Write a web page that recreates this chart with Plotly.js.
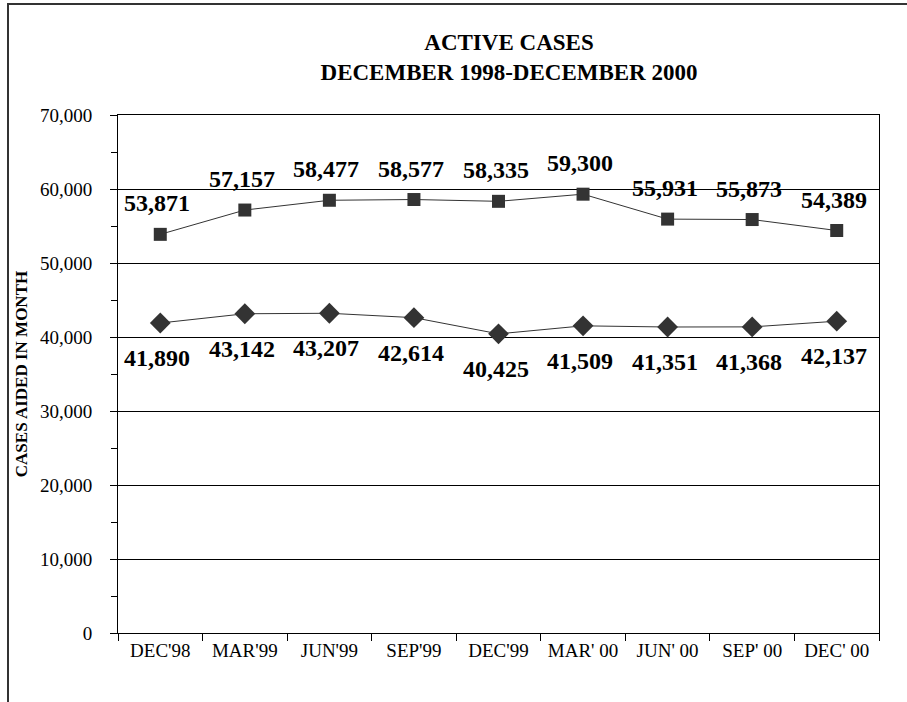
<!DOCTYPE html>
<html>
<head>
<meta charset="utf-8">
<script src="https://cdn.plot.ly/plotly-3.0.1.min.js"></script>
<style>
  html, body { margin: 0; padding: 0; background: #fff; }
  #wrap { position: relative; width: 907px; height: 702px; overflow: hidden; }
  #chart { width: 907px; height: 702px; }
  #frame { position: absolute; left: 7px; top: 3px; width: 1000px; height: 1000px;
           border-left: 2px solid #333; border-top: 2px solid #333; pointer-events: none; }
</style>
</head>
<body>
<div id="wrap">
  <div id="chart"></div>
  <div id="frame"></div>
</div>
<script>
const categories = ["DEC'98", "MAR'99", "JUN'99", "SEP'99", "DEC'99", "MAR' 00", "JUN' 00", "SEP' 00", "DEC' 00"];
const upperSeries = [53871, 57157, 58477, 58577, 58335, 59300, 55931, 55873, 54389];
const lowerSeries = [41890, 43142, 43207, 42614, 40425, 41509, 41351, 41368, 42137];
const yTickValues = [0, 10000, 20000, 30000, 40000, 50000, 60000, 70000];

const serif = "'Liberation Serif', 'Times New Roman', serif";
const markColor = "#333333";

const traces = [
  {
    x: categories, y: upperSeries, type: "scatter", mode: "lines+markers",
    line: {color: markColor, width: 1},
    marker: {symbol: "square", size: 13, color: markColor},
    hoverinfo: "skip", showlegend: false
  },
  {
    x: categories, y: lowerSeries, type: "scatter", mode: "lines+markers",
    line: {color: markColor, width: 1},
    marker: {symbol: "diamond", size: 16, color: markColor},
    hoverinfo: "skip", showlegend: false
  }
];

const fmt = v => v.toLocaleString("en-US");
const annotations = [];
categories.forEach((c, i) => {
  annotations.push({x: c, y: upperSeries[i], xref: "x", yref: "y", text: "<b>" + fmt(upperSeries[i]) + "</b>",
    showarrow: false, yshift: 31, xshift: -3, font: {family: serif, size: 24, color: "#000"}});
  annotations.push({x: c, y: lowerSeries[i], xref: "x", yref: "y", text: "<b>" + fmt(lowerSeries[i]) + "</b>",
    showarrow: false, yshift: -35, xshift: -3, font: {family: serif, size: 24, color: "#000"}});
});

const layout = {
  width: 907, height: 702,
  margin: {l: 118, r: 28, t: 115, b: 69, pad: 0},
  paper_bgcolor: "#fff", plot_bgcolor: "#fff",
  font: {family: serif, color: "#000"},
  title: {
    text: "<b>ACTIVE CASES<br>DECEMBER 1998-DECEMBER 2000</b>",
    font: {family: serif, size: 23, color: "#000"},
    x: 509 / 907, xref: "container", xanchor: "center",
    y: 1 - 50 / 702, yref: "container", yanchor: "top"
  },
  xaxis: {
    type: "category", categoryorder: "array", categoryarray: categories,
    range: [-0.5, 8.5], fixedrange: true,
    tickson: "boundaries", ticks: "outside", ticklen: 7, tickcolor: "#000", tickwidth: 1,
    showline: true, linecolor: "#000", linewidth: 1, mirror: true,
    showgrid: false, zeroline: false,
    tickfont: {family: serif, size: 19, color: "#000"}
  },
  yaxis: {
    range: [0, 70000], fixedrange: true,
    tickvals: yTickValues, tickformat: ",d",
    ticks: "outside", ticklen: 7, tickcolor: "#000", tickwidth: 1,
    minor: {dtick: 5000, ticks: "outside", ticklen: 6, tickcolor: "#000", showgrid: false},
    showline: true, linecolor: "#000", linewidth: 1, mirror: true,
    showgrid: true, gridcolor: "#000", gridwidth: 1, zeroline: false,
    ticklabelstandoff: 14,
    tickfont: {family: serif, size: 19, color: "#000"},
    title: {text: "<b>CASES AIDED IN MONTH</b>", font: {family: serif, size: 17, color: "#000"}, standoff: 8}
  },
  annotations: annotations
};

Plotly.newPlot("chart", traces, layout, {displayModeBar: false, staticPlot: true});
</script>
</body>
</html>
